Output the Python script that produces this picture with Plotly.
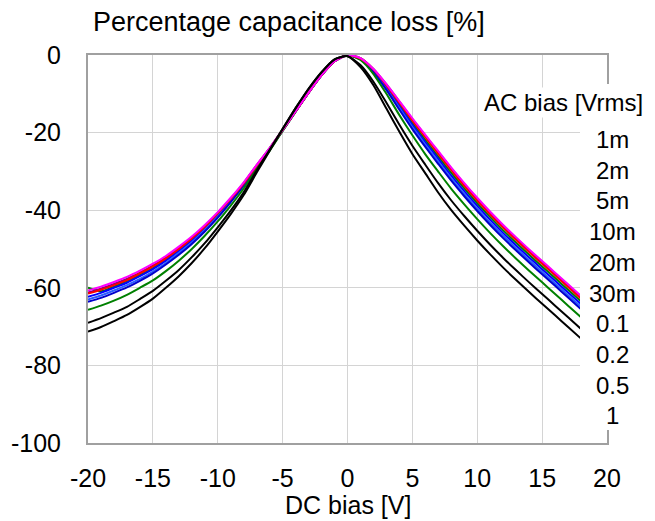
import plotly.graph_objects as go

dc_bias = [-20, -19, -18, -17, -16, -15, -14, -13, -12, -11, -10, -9, -8, -7, -6, -5, -4, -3, -2, -1,
           0, 1, 2, 3, 4, 5, 6, 7, 8, 9, 10, 11, 12, 13, 14, 15, 16, 17, 18]

x_ticks = [-20, -15, -10, -5, 0, 5, 10, 15, 20]
x_tick_text = ["-20", "-15", "-10", "-5", "0", "5", "10", "15", "20"]
y_ticks = [-100, -80, -60, -40, -20, 0]
y_tick_text = ["-100", "-80", "-60", "-40", "-20", "0"]

ac_labels = ["1m", "2m", "5m", "10m", "20m", "30m", "0.1", "0.2", "0.5", "1"]

loss_1m = [-60.7,-59.7,-58.5,-57.2,-55.6,-53.8,-51.8,-49.4,-46.8,-43.8,-40.5,-36.8,-32.8,-28.3,-24.0,-19.3,-14.5,-9.7,-5.2,-1.6,0,
           -0.8,-3.6,-7.5,-11.9,-16.3,-20.6,-24.8,-29.0,-33.0,-36.8,-40.4,-43.8,-47.0,-50.1,-53.1,-56.1,-59.1,-62.1]
loss_2m = [-61.5,-60.5,-59.3,-58.0,-56.3,-54.5,-52.4,-50.0,-47.3,-44.3,-40.8,-37.1,-33.1,-28.5,-24.1,-19.3,-14.5,-9.7,-5.2,-1.6,0,
           -0.9,-3.7,-7.8,-12.3,-16.9,-21.2,-25.5,-29.7,-33.7,-37.5,-41.1,-44.5,-47.7,-50.8,-53.8,-56.8,-59.8,-62.8]
loss_5m = [-61.2,-60.2,-59.0,-57.7,-56.1,-54.3,-52.2,-49.7,-47.1,-44.1,-40.7,-37.0,-33.0,-28.4,-24.0,-19.3,-14.5,-9.7,-5.2,-1.6,0,
           -0.8,-3.6,-7.6,-12.0,-16.5,-20.8,-25.0,-29.2,-33.2,-37.0,-40.6,-44.0,-47.2,-50.3,-53.3,-56.3,-59.3,-62.3]
loss_10m = [-60.0,-60.9,-59.7,-58.3,-56.7,-54.9,-52.7,-50.2,-47.6,-44.5,-41.0,-37.3,-33.2,-28.6,-24.1,-19.4,-14.5,-9.7,-5.2,-1.6,0,
            -0.9,-3.9,-8.1,-12.8,-17.5,-21.9,-26.2,-30.4,-34.4,-38.2,-41.8,-45.2,-48.4,-51.5,-54.5,-57.5,-60.5,-63.5]
loss_20m = [-62.3,-61.3,-60.0,-58.7,-57.0,-55.2,-53.0,-50.5,-47.8,-44.7,-41.2,-37.4,-33.3,-28.7,-24.2,-19.4,-14.5,-9.7,-5.2,-1.6,0,
            -1.0,-4.1,-8.5,-13.2,-18.0,-22.5,-26.8,-31.1,-35.1,-38.9,-42.5,-45.9,-49.1,-52.2,-55.2,-58.2,-61.2,-64.2]
loss_30m = [-63.0,-62.0,-60.7,-59.3,-57.7,-55.8,-53.6,-51.0,-48.3,-45.1,-41.6,-37.7,-33.5,-28.8,-24.3,-19.4,-14.5,-9.7,-5.2,-1.6,0,
            -1.1,-4.3,-8.8,-13.7,-18.6,-23.1,-27.5,-31.8,-35.8,-39.6,-43.2,-46.6,-49.8,-52.9,-55.9,-58.9,-61.9,-64.9]
loss_0_1 = [-63.6,-62.6,-61.3,-59.9,-58.2,-56.3,-54.0,-51.5,-48.7,-45.5,-41.9,-37.9,-33.7,-29.0,-24.4,-19.5,-14.6,-9.7,-5.2,-1.6,0,
            -1.1,-4.4,-9.0,-14.1,-19.1,-23.7,-28.1,-32.4,-36.4,-40.2,-43.8,-47.2,-50.4,-53.5,-56.5,-59.5,-62.5,-65.5]
loss_0_2 = [-65.7,-64.6,-63.3,-61.8,-60.0,-58.1,-55.7,-53.0,-50.0,-46.6,-42.9,-38.8,-34.4,-29.4,-24.7,-19.6,-14.6,-9.7,-5.2,-1.6,0,
            -1.3,-4.9,-10.0,-15.5,-20.7,-25.6,-30.1,-34.5,-38.5,-42.3,-45.9,-49.3,-52.5,-55.6,-58.6,-61.6,-64.6,-67.6]
loss_0_5 = [-69.0,-67.8,-66.4,-64.9,-62.9,-60.8,-58.2,-55.4,-52.1,-48.5,-44.4,-40.1,-35.4,-29.8,-24.4,-19.0,-13.7,-8.7,-4.4,-1.1,-0.3,
            -2.6,-6.9,-12.3,-18.0,-23.4,-28.3,-33.1,-37.5,-41.5,-45.3,-48.9,-52.3,-55.5,-58.6,-61.6,-64.6,-67.6,-70.6]
loss_1 = [-71.3,-70.1,-68.6,-67.0,-65.0,-62.8,-60.0,-57.0,-53.6,-49.8,-45.5,-41.0,-36.1,-30.3,-24.7,-19.1,-13.7,-8.7,-4.4,-1.1,-0.3,
          -3.1,-7.8,-13.8,-19.8,-25.5,-30.5,-35.5,-40.0,-44.0,-47.8,-51.4,-54.8,-58.0,-61.1,-64.1,-67.1,-70.1,-73.1]

series = {
    "1m": loss_1m, "2m": loss_2m, "5m": loss_5m, "10m": loss_10m, "20m": loss_20m,
    "30m": loss_30m, "0.1": loss_0_1, "0.2": loss_0_2, "0.5": loss_0_5, "1": loss_1,
}
colors = {
    "1m": "#FF00FF", "2m": "#FF0000", "5m": "#800080", "10m": "#008000", "20m": "#0000FF",
    "30m": "#2A5CFF", "0.1": "#0000CC", "0.2": "#008000", "0.5": "#000000", "1": "#000000",
}
draw_order = ["10m", "20m", "30m", "0.1", "0.2", "5m", "2m", "1m", "0.5", "1"]

FONT = "Liberation Sans, Arial, sans-serif"

fig = go.Figure()
for name in draw_order:
    fig.add_trace(go.Scatter(
        x=dc_bias, y=series[name], mode="lines", name=name,
        line=dict(color=colors[name], width=2, shape="spline", smoothing=0.6),
        showlegend=False,
    ))

W, H = 655, 521
L, R, T, B = 88, 48, 55, 78
pw, ph = W - L - R, H - T - B

def px_x(px):
    return (px - L) / pw

def px_y(py):
    return (H - B - py) / ph

fig.update_layout(
    width=W, height=H,
    margin=dict(l=L, r=R, t=T, b=B, pad=0),
    paper_bgcolor="white", plot_bgcolor="white",
    font=dict(family=FONT, size=25, color="black"),
    xaxis=dict(
        range=[-20, 20], tickvals=x_ticks, ticktext=x_tick_text,
        showgrid=True, gridcolor="#D4D4D4", gridwidth=1, zeroline=False,
        showline=True, linecolor="#A0A0A0", linewidth=2, mirror=True,
        ticks="", ticklabelstandoff=12,
        tickfont=dict(family=FONT, size=25, color="black"),
    ),
    xaxis2=dict(
        range=[-20, 20], overlaying="x", side="top",
        tickvals=x_ticks,
        ticks="inside", ticklen=5, tickcolor="black", tickwidth=1,
        showticklabels=False, showgrid=False, zeroline=False,
        showline=True, linecolor="black", linewidth=2,
    ),
    yaxis=dict(
        range=[-100, 0], tickvals=y_ticks, ticktext=y_tick_text,
        showgrid=True, gridcolor="#D4D4D4", gridwidth=1, zeroline=False,
        showline=True, linecolor="#A0A0A0", linewidth=2, mirror=True,
        ticks="", ticklabelstandoff=20,
        tickfont=dict(family=FONT, size=25, color="black"),
    ),
)

# white legend panel masking the right part of the plot
fig.add_shape(type="rect", xref="paper", yref="paper",
              x0=px_x(580), x1=px_x(660), y0=px_y(430), y1=px_y(84),
              fillcolor="white", line=dict(width=0), layer="above")

annotations = []
annotations.append(dict(
    text="Percentage capacitance loss [%]", xref="paper", yref="paper",
    x=px_x(91), y=px_y(22), xanchor="left", yanchor="middle", showarrow=False,
    font=dict(family=FONT, size=27, color="black")))
annotations.append(dict(
    text="DC bias [V]", xref="paper", yref="paper",
    x=px_x(348), y=px_y(505), xanchor="center", yanchor="middle", showarrow=False,
    font=dict(family=FONT, size=25, color="black")))
annotations.append(dict(
    text="AC bias [Vrms]", xref="paper", yref="paper",
    x=px_x(563), y=px_y(102), xanchor="center", yanchor="middle", showarrow=False,
    bgcolor="white", borderpad=1,
    font=dict(family=FONT, size=24, color="black")))
for i, lab in enumerate(ac_labels):
    annotations.append(dict(
        text=lab, xref="paper", yref="paper",
        x=px_x(612), y=px_y(139.5 + 30.7 * i), xanchor="center", yanchor="middle",
        showarrow=False, font=dict(family=FONT, size=24, color="black")))
fig.update_layout(annotations=annotations)

fig.write_html("out.html")
